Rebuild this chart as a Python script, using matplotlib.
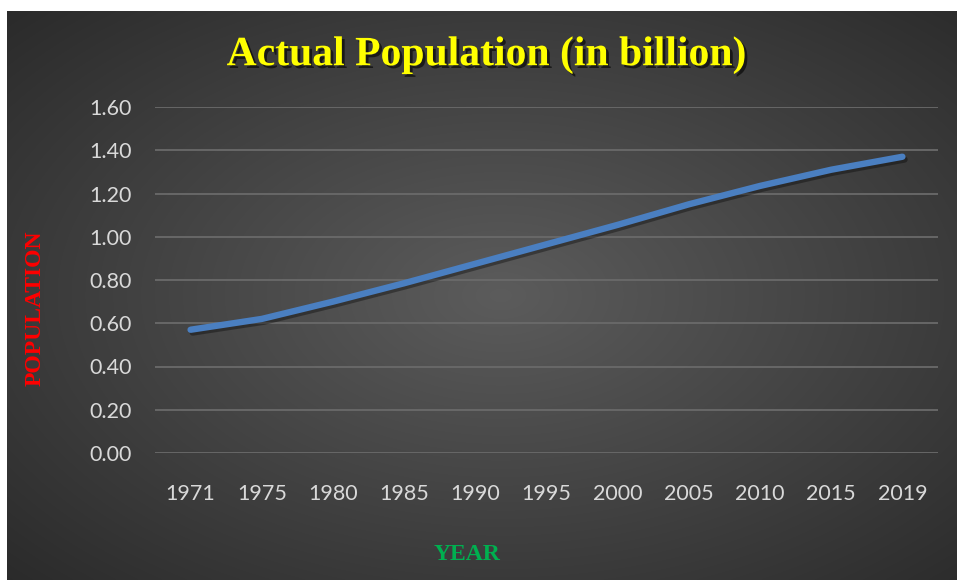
import numpy as np
import matplotlib.pyplot as plt
import matplotlib.patheffects as pe

# data
years = ['1971', '1975', '1980', '1985', '1990', '1995', '2000', '2005', '2010', '2015', '2019']
population = [0.57, 0.62, 0.70, 0.785, 0.875, 0.965, 1.055, 1.15, 1.235, 1.31, 1.37]
y_ticks = [0.0, 0.2, 0.4, 0.6, 0.8, 1.0, 1.2, 1.4, 1.6]

W, H = 957, 580
fig = plt.figure(figsize=(W / 100, H / 100), dpi=100)
fig.patch.set_facecolor('white')

# dark radial gradient background (Excel style)
bg = fig.add_axes([7 / W, 0, (W - 7) / W, (H - 11) / H])
yy, xx = np.mgrid[0:1:300j, 0:1:500j]
d = np.sqrt(((xx - 0.52) / 0.75) ** 2 + ((yy - 0.5) / 0.75) ** 2)
d = np.clip(d, 0, 1)
shade = 0.36 - 0.20 * d
img = np.dstack([shade, shade, shade])
bg.imshow(img, aspect='auto', extent=[0, 1, 0, 1], interpolation='bilinear')
bg.set_axis_off()

ax = fig.add_axes([155 / W, 1 - 453 / H, (938 - 155) / W, (453 - 107) / H])
ax.patch.set_alpha(0)

x = np.arange(len(years))
ax.plot(x, population, color='#4a7fc1', lw=4.6, solid_capstyle='round',
        solid_joinstyle='round', zorder=3,
        path_effects=[pe.SimpleLineShadow(offset=(1.5, -2), shadow_color='black', alpha=0.35),
                      pe.Normal()])

ax.set_xlim(-0.5, len(years) - 0.5)
ax.set_ylim(0, 1.6)
ax.set_yticks(y_ticks)
ax.set_yticklabels([f'{v:.2f}' for v in y_ticks])
ax.set_xticks(x)
ax.set_xticklabels(years)
ax.grid(axis='y', color='#6a6a6a', lw=1.3)
ax.set_axisbelow(True)
for s in ax.spines.values():
    s.set_visible(False)
ax.tick_params(length=0, colors='#d9d9d9', labelsize=15.5)
ax.tick_params(axis='y', pad=17)
ax.tick_params(axis='x', pad=22)
for lab in ax.get_xticklabels() + ax.get_yticklabels():
    lab.set_fontfamily('Lato')

fig.text(486 / W, 1 - 55 / H, 'Actual Population (in billion)', ha='center', va='center',
         color='#ffff00', fontsize=30, fontweight='bold', family='Liberation Serif',
         path_effects=[pe.withSimplePatchShadow(offset=(2, -2), shadow_rgbFace='black', alpha=0.6)])
fig.text(35 / W, 1 - 308 / H, 'POPULATION', ha='center', va='center', rotation=90,
         color='#ff0000', fontsize=17, fontweight='bold', family='Liberation Serif')
fig.text(467 / W, 1 - 554 / H, 'YEAR', ha='center', va='center',
         color='#00b050', fontsize=17, fontweight='bold', family='Liberation Serif')

fig.savefig('out.png', dpi=100)
